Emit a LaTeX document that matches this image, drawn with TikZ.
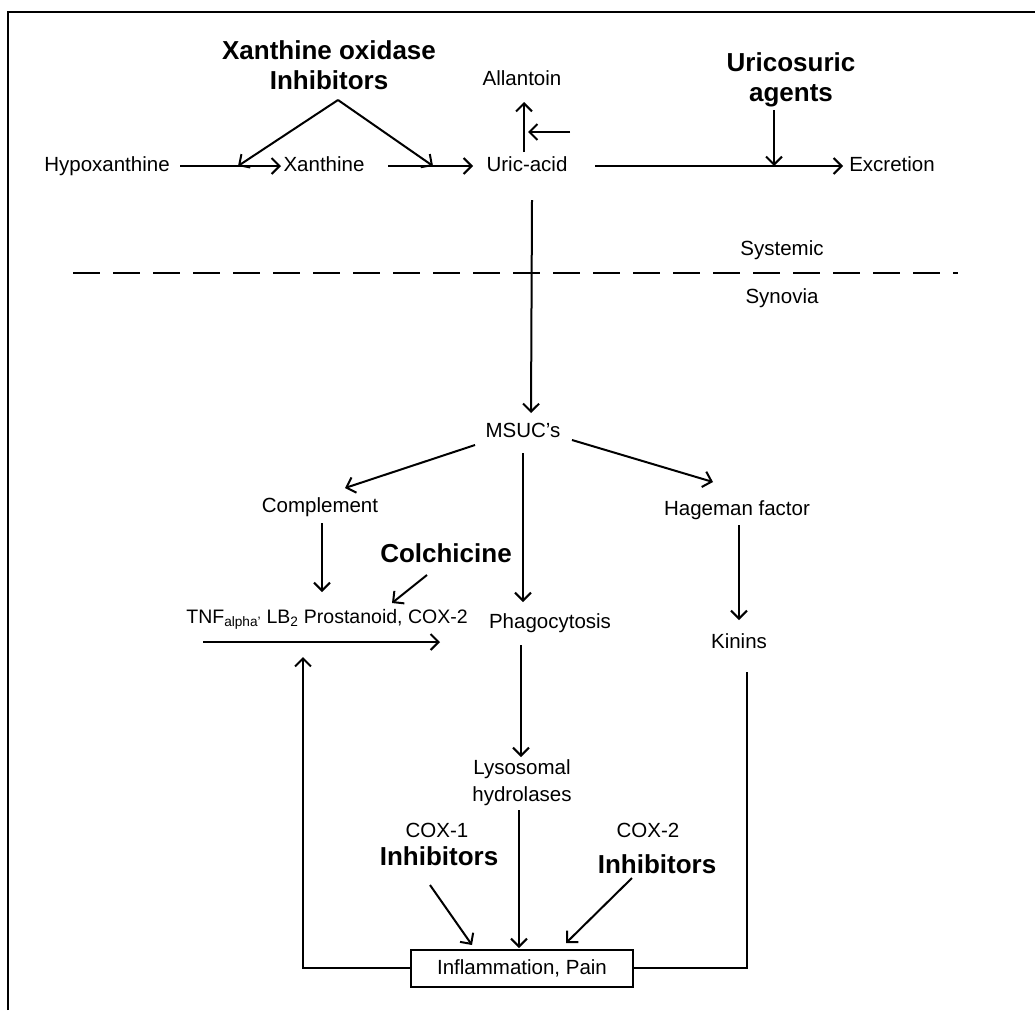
\documentclass[tikz,border=0pt]{standalone}
\usepackage{fontspec}
\setmainfont{Liberation Sans}
\usetikzlibrary{arrows.meta}
\begin{document}
\begin{tikzpicture}[x=1pt,y=-1pt,
  txt/.style={font=\fontsize{20.5}{27}\selectfont, inner sep=0pt, align=center},
  lbl/.style={txt, text height=15pt, text depth=4pt},
  btxt/.style={font=\fontsize{26}{30}\selectfont\bfseries, inner sep=0pt, align=center},
  blbl/.style={btxt, text height=19pt, text depth=5pt},
  ln/.style={line width=2pt},
  arr/.style={ln, -{Straight Barb[length=8pt,width=16pt,line width=2pt]}},
  sh/.style={shift={#1}}]
\useasboundingbox (0,0) rectangle (1035,1010);
\fill[white] (0,0) rectangle (1035,1010);
% frame (top and left edges)
\draw[line width=1.5pt] (8,1010) -- (8,12) -- (1035,12);

% top row
\node[btxt] (xoi) at (329,65) {Xanthine oxidase\\Inhibitors};
\node[lbl] (hypo) at (107,166) {Hypoxanthine};
\node[lbl] (xan) at (324,166) {Xanthine};
\node[lbl] (uric) at (527,166) {Uric-acid};
\node[lbl] (allan) at (522,80) {Allantoin};
\node[btxt] (uri) at (791,80) {Uricosuric\\agents};
\node[lbl] (excr) at (892,166) {Excretion};
\node[lbl] (syst) at (782,250) {Systemic};
\node[lbl] (syno) at (782,298) {Synovia};

% synovia part
\node[lbl] (msuc) at (523,432) {MSUC's};
\node[lbl] (compl) at (320,507) {Complement};
\node[blbl] (colch) at (446,555) {Colchicine};
\node[lbl, font=\fontsize{19.5}{23}\selectfont] (tnf) at (327,618) {TNF\textsubscript{alpha'} LB\textsubscript{2} Prostanoid, COX-2};
\node[lbl] (phago) at (550,623) {Phagocytosis};
\node[lbl] (hag) at (737,510) {Hageman factor};
\node[lbl] (kin) at (739,643) {Kinins};
\node[txt] (lyso) at (522,783) {Lysosomal\\hydrolases};
\node[lbl] (cox1) at (437,832) {COX-1};
\node[blbl] (inh1) at (439,858) {Inhibitors};
\node[lbl] (cox2) at (648,832) {COX-2};
\node[blbl] (inh2) at (657,866) {Inhibitors};
\node[draw, line width=2pt, minimum width=222pt, minimum height=37pt,
      font=\fontsize{20.5}{24}\selectfont, inner sep=0pt] (box) at (522,968) {Inflammation, Pain};

% dashed boundary
\coordinate (dl) at (73,273);
\coordinate (dr) at (958,273);
\draw[ln, dash pattern=on 27pt off 13pt] (dl) -- (dr);

% top connectors
\draw[arr] ([sh={(73,0)}]hypo.center) -- ([sh={(-43,0)}]xan.center);
\draw[arr] ([sh={(64,0)}]xan.center) -- ([sh={(-54,0)}]uric.center);
\draw[arr] ([sh={(68,0)}]uric.center) -- ([sh={(-49,0)}]excr.center);
\draw[arr] ([sh={(9,35)}]xoi.center) -- ([sh={(-86,0)}]xan.center);
\draw[arr] ([sh={(9,35)}]xoi.center) -- ([sh={(109,0)}]xan.center);
\draw[arr] ([sh={(-17,30)}]uri.center) -- ([sh={(-118,0)}]excr.center);
\draw[arr] ([sh={(-3,-14)}]uric.center) -- ([sh={(2,22)}]allan.center);
\draw[arr] ([sh={(43,-34)}]uric.center) -- ([sh={(1,-34)}]uric.center);
\draw[arr] ([sh={(5,34)}]uric.center) -- ([sh={(8,-19)}]msuc.center);

% MSUC branches
\draw[arr] ([sh={(-48,13)}]msuc.center) -- ([sh={(25,-19)}]compl.center);
\draw[arr] ([sh={(0,21)}]msuc.center) -- ([sh={(-27,-21)}]phago.center);
\draw[arr] ([sh={(49,8)}]msuc.center) -- ([sh={(-24,-28)}]hag.center);
\draw[arr] ([sh={(2,16)}]compl.center) -- ([sh={(-5,-26)}]tnf.center);
\draw[arr] ([sh={(-19,20)}]colch.center) -- ([sh={(65,-15)}]tnf.center);
\draw[arr] ([sh={(-124,24)}]tnf.center) -- ([sh={(113,24)}]tnf.center);
\draw[arr] ([sh={(2,15)}]hag.center) -- ([sh={(0,-23)}]kin.center);
\draw[arr] ([sh={(-29,22)}]phago.center) -- ([sh={(-1,-26)}]lyso.center);

% towards inflammation
\draw[arr] ([sh={(-3,27)}]lyso.center) -- ([sh={(-3,-20)}]box.center);
\draw[arr] ([sh={(-9,27)}]inh1.center) -- ([sh={(-50,-23)}]box.center);
\draw[arr] ([sh={(-25,12)}]inh2.center) -- ([sh={(44,-25)}]box.center);

% feedback lines
\draw[arr] (box.west) -| ([sh={(-24,39)}]tnf.center);
\draw[ln] (box.east) -| ([sh={(8,29)}]kin.center);
\end{tikzpicture}
\end{document}
